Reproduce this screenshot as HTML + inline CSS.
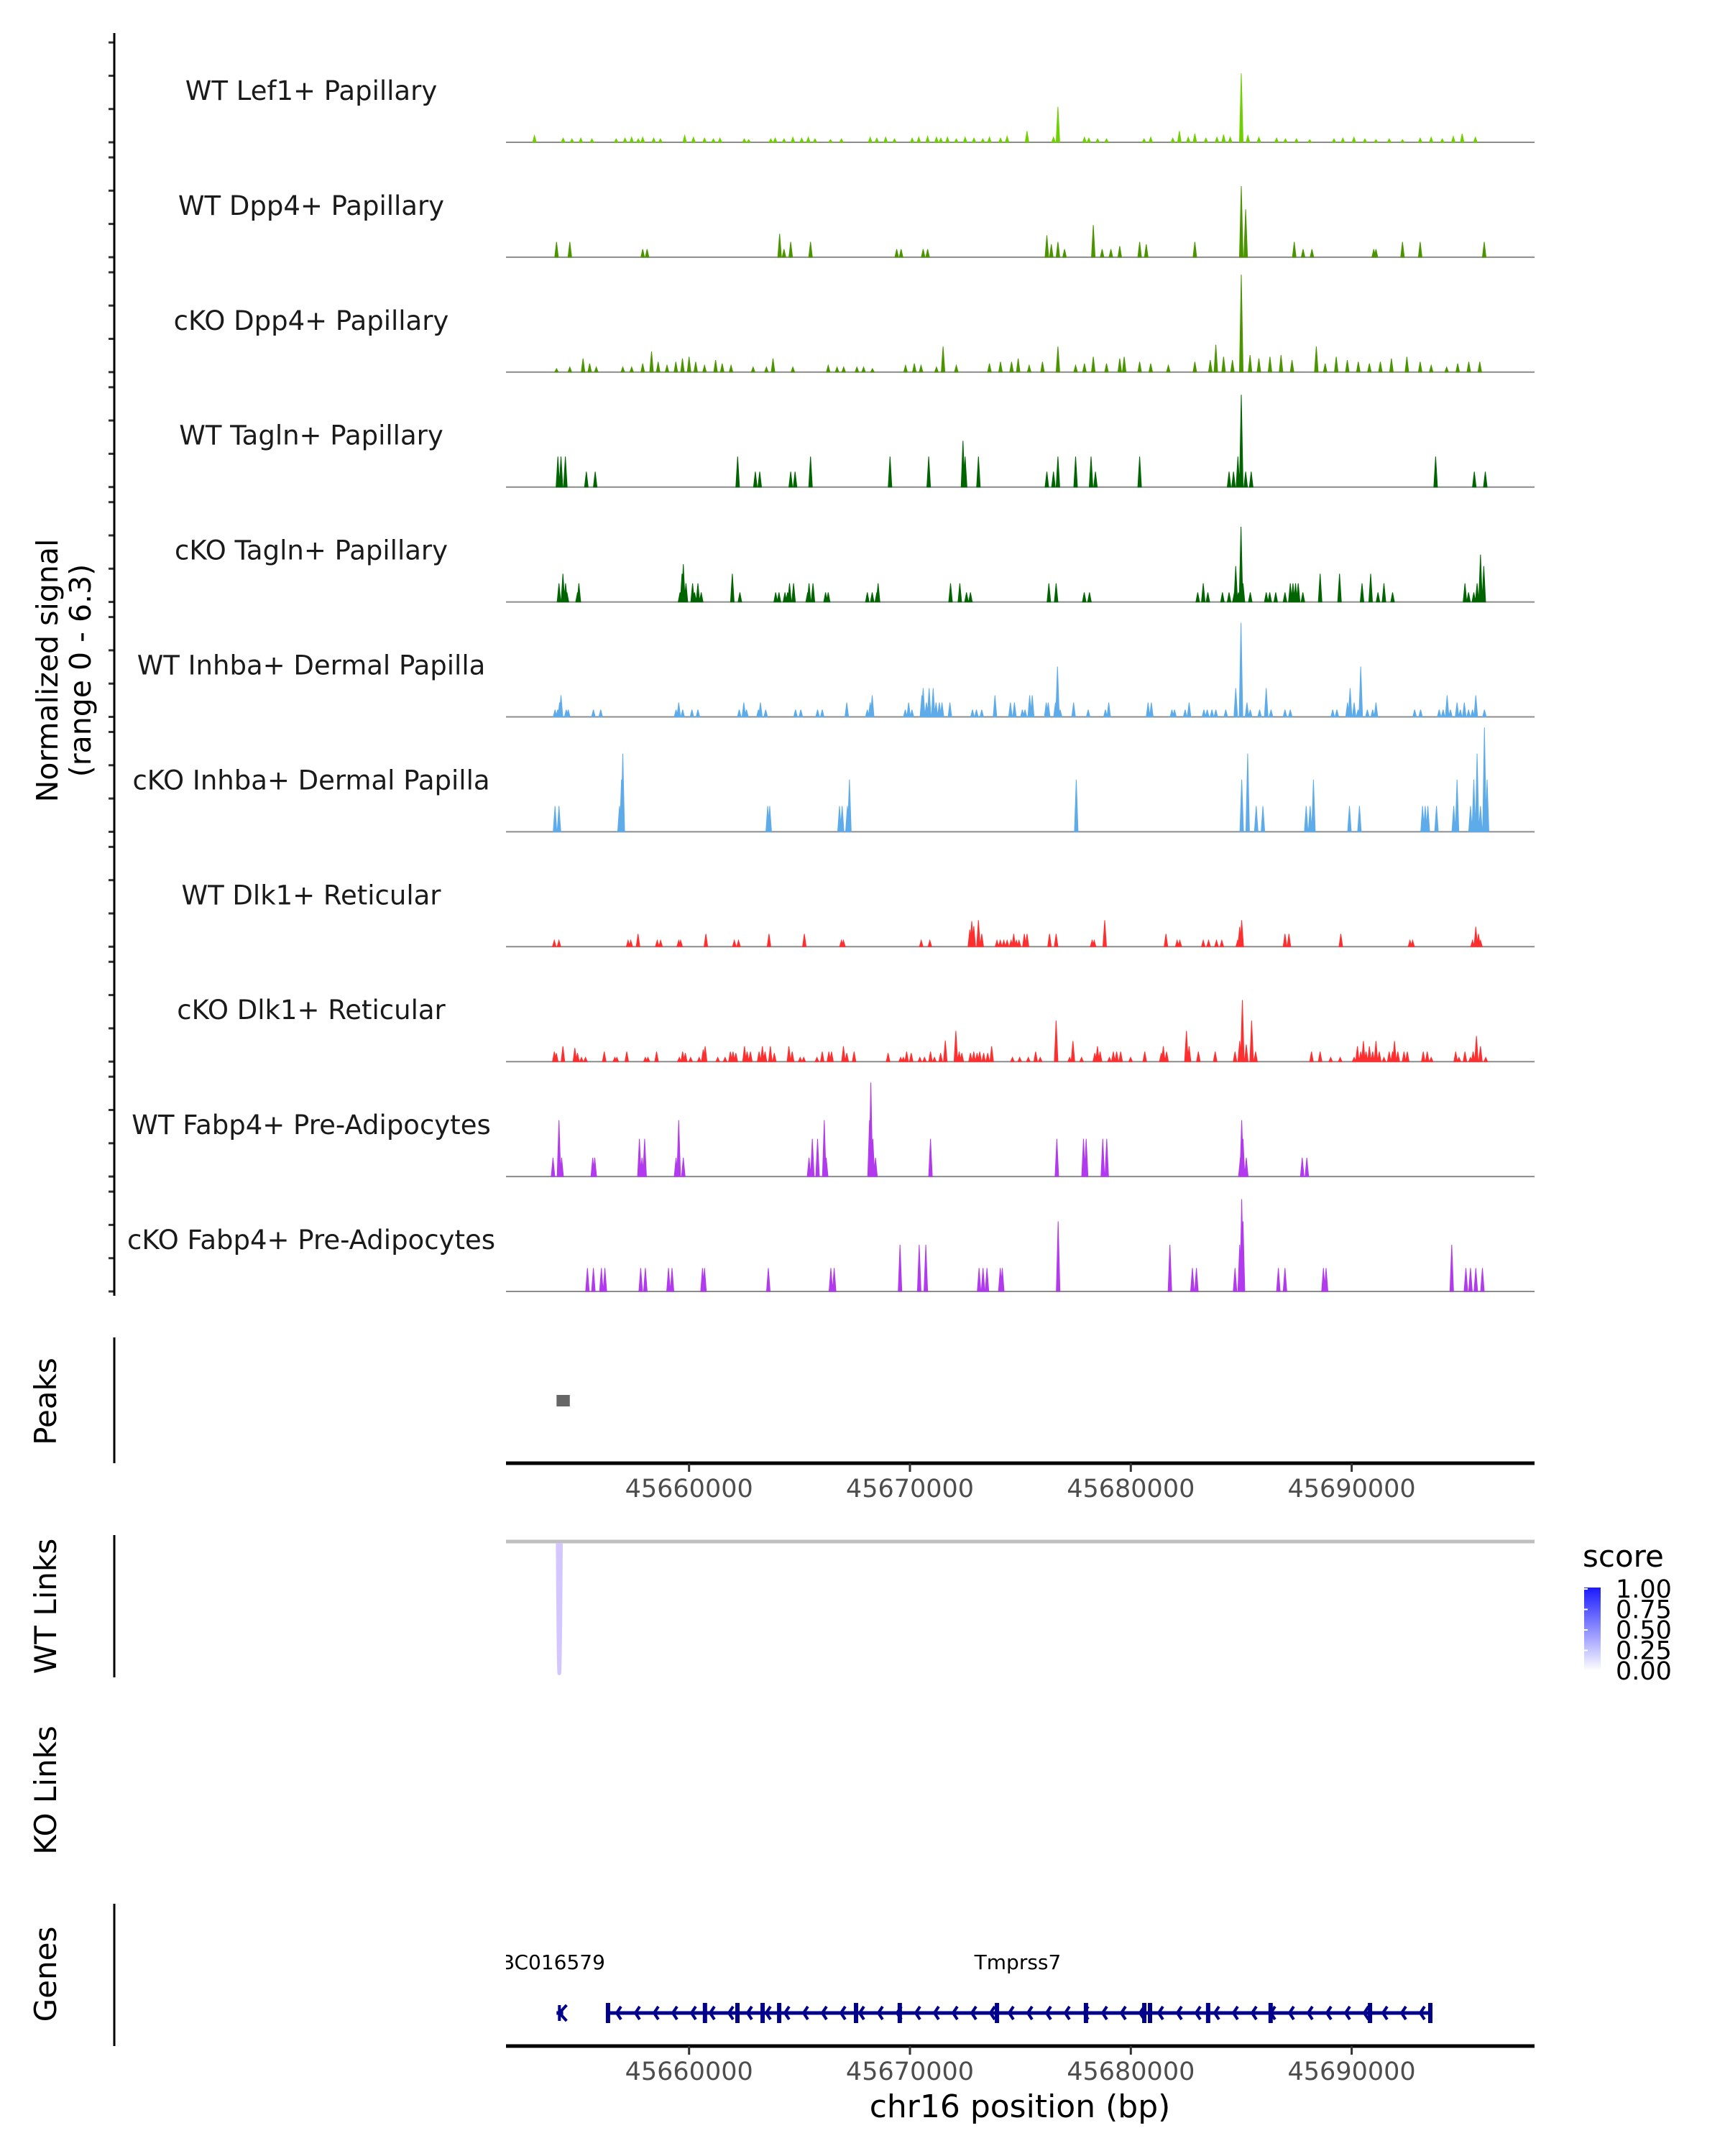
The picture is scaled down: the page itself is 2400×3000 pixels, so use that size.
<!DOCTYPE html>
<html><head><meta charset="utf-8"><style>
html,body{margin:0;padding:0;background:#fff}
svg{display:block}
text{font-family:"DejaVu Sans","Liberation Sans",sans-serif}
</style></head><body>
<svg id="fig" width="2400" height="3000" viewBox="0 0 2400 3000" xmlns="http://www.w3.org/2000/svg">
<defs>
<linearGradient id="scoreGrad" x1="0" y1="1" x2="0" y2="0"><stop offset="0" stop-color="#ffffff"/><stop offset="1" stop-color="#1a1aff"/></linearGradient>
<clipPath id="plotClip"><rect x="704" y="0" width="1431" height="3000"/></clipPath>
</defs>
<g id="tracks"></g>
<g id="axes"></g>
</svg>
<script>
// positions are kb on chr16 minus 45600 kb
const lef1Pos=[53.0,54.3,54.7,55.1,55.6,56.7,57.1,57.4,57.7,57.9,58.4,58.7,59.8,60.2,60.7,61.1,61.4,62.5,62.7,63.7,63.9,64.3,64.7,65.1,65.4,65.7,66.4,66.9,68.2,68.5,68.9,69.3,70.1,70.4,70.8,71.2,71.4,71.7,72.1,72.5,72.9,73.3,73.6,74.1,74.4,75.3,76.5,76.7,77.9,78.1,78.5,78.9,80.6,80.9,81.9,82.2,82.6,82.9,83.4,83.9,84.2,84.5,85.0,85.3,85.8,86.6,87.0,87.5,88.1,89.2,89.6,90.1,90.6,91.1,91.7,92.3,93.1,93.6,94.1,94.6,95.0,95.6];
const lef1Val=[0.4,0.25,0.2,0.25,0.2,0.2,0.25,0.3,0.2,0.3,0.25,0.2,0.4,0.3,0.25,0.2,0.25,0.2,0.15,0.2,0.25,0.2,0.3,0.25,0.3,0.2,0.15,0.2,0.3,0.25,0.3,0.2,0.25,0.3,0.35,0.3,0.25,0.3,0.2,0.3,0.25,0.2,0.3,0.25,0.35,0.66,0.3,2.08,0.3,0.25,0.2,0.2,0.2,0.3,0.25,0.66,0.3,0.5,0.25,0.3,0.45,0.3,4.03,0.4,0.3,0.25,0.2,0.2,0.15,0.2,0.25,0.3,0.2,0.15,0.2,0.15,0.25,0.3,0.2,0.35,0.5,0.3];
const dppWtPos=[54.0,54.6,57.9,58.1,64.1,64.3,64.6,65.5,69.4,69.6,70.6,70.8,76.2,76.4,76.7,77.0,78.3,78.7,79.1,79.5,80.4,80.7,82.9,85.0,85.2,87.4,87.8,88.2,91.0,91.1,92.3,93.1,96.0];
const dppWtVal=[0.9,0.9,0.47,0.47,1.37,0.47,0.9,0.9,0.47,0.47,0.47,0.47,1.28,0.75,0.9,0.47,1.88,0.47,0.47,0.65,0.9,0.75,0.9,4.16,2.8,0.9,0.47,0.47,0.47,0.47,0.9,0.9,0.9];
const dppKoPos=[54.0,54.6,55.2,55.5,55.8,57.0,57.4,57.9,58.3,58.6,59.0,59.4,59.7,60.0,60.3,60.7,61.2,61.5,61.9,62.9,63.5,63.8,64.7,66.3,66.7,67.0,67.6,67.9,68.3,69.8,70.2,70.5,71.2,71.5,72.1,73.6,74.1,74.6,74.9,75.4,76.0,76.7,77.5,77.9,78.3,78.9,79.5,79.7,80.4,80.9,81.7,82.9,83.6,83.85,84.2,84.6,85.0,85.4,85.8,86.3,86.8,87.3,88.4,88.8,89.3,89.8,90.3,90.8,91.3,91.8,92.5,93.1,93.6,94.3,94.8,95.3,95.8];
const dppKoVal=[0.2,0.3,0.8,0.5,0.3,0.3,0.3,0.5,1.2,0.6,0.4,0.6,0.8,0.9,0.6,0.4,0.7,0.5,0.4,0.3,0.3,0.8,0.3,0.4,0.3,0.3,0.3,0.3,0.2,0.4,0.5,0.4,0.3,1.5,0.4,0.5,0.6,0.6,0.8,0.4,0.6,1.5,0.4,0.5,0.9,0.5,0.8,0.9,0.6,0.5,0.4,0.6,0.7,1.6,0.9,0.7,5.7,1.0,0.8,0.9,1.0,0.7,1.5,0.5,0.9,0.7,0.6,0.5,0.6,0.8,0.9,0.6,0.4,0.3,0.5,0.6,0.6];
const tagWtPos=[54.06,54.2,54.4,55.35,55.75,62.2,63.0,63.2,64.6,64.8,65.5,69.1,70.85,72.4,72.5,73.1,76.2,76.5,76.7,77.5,78.2,78.4,80.4,84.45,84.65,84.85,85.0,85.2,85.45,93.8,95.55,96.05];
const tagWtVal=[1.78,1.78,1.78,0.9,0.9,1.78,0.9,0.9,0.9,0.9,1.78,1.78,1.78,2.7,1.78,1.78,0.9,0.9,1.78,1.78,1.78,0.9,1.78,0.9,0.9,1.78,5.4,0.9,0.9,1.78,0.9,0.9];
const tagKoPos=[54.11,54.29,54.41,54.47,54.95,55.01,59.59,59.68,59.74,59.86,60.16,60.25,60.4,60.55,61.96,62.3,63.92,64.07,64.34,64.46,64.55,64.73,65.37,65.43,65.61,66.18,66.3,68.07,68.29,68.5,68.56,71.84,72.26,72.56,72.74,76.29,76.62,77.89,78.13,83.03,83.28,83.49,84.15,84.45,84.69,84.75,84.87,84.99,85.08,85.41,86.13,86.29,86.56,86.98,87.22,87.34,87.46,87.58,87.79,88.57,89.45,90.47,90.86,91.19,91.46,91.85,95.13,95.29,95.53,95.68,95.83,95.98];
const tagKoVal=[1.09,1.65,1.09,0.56,0.56,1.09,0.56,1.65,2.2,1.09,1.09,0.56,1.09,0.56,1.65,0.56,0.56,0.56,0.56,0.56,1.09,1.09,0.56,1.09,1.09,0.56,0.56,0.56,0.56,0.56,1.09,1.09,1.09,0.56,0.56,1.09,1.09,0.56,0.56,0.56,1.09,0.56,0.56,0.56,0.56,2.1,0.56,4.4,1.09,0.56,0.56,0.56,0.56,0.56,1.09,1.09,1.09,1.09,0.56,1.65,1.65,1.09,1.65,0.56,1.09,0.56,1.09,0.56,0.56,1.09,2.77,2.1];
const inhWtPos=[53.93,54.05,54.14,54.2,54.44,54.53,55.67,56.0,59.41,59.53,59.71,60.13,60.4,62.27,62.48,62.6,63.14,63.23,63.47,64.82,65.06,65.82,66.03,67.14,68.07,68.2,68.29,69.79,69.94,70.09,70.54,70.6,70.75,70.87,71.05,71.18,71.33,71.45,71.81,72.83,73.01,73.25,73.85,74.55,74.73,75.09,75.21,75.42,75.54,76.17,76.26,76.59,76.68,76.8,77.41,78.07,78.85,79.0,80.78,80.93,81.86,81.98,82.46,82.64,83.31,83.46,83.67,83.85,84.3,84.75,84.99,85.26,85.41,85.83,86.13,86.35,86.98,87.22,89.14,89.33,89.81,89.93,90.11,90.29,90.41,90.71,90.95,91.1,92.85,93.12,93.96,94.14,94.32,94.47,94.77,94.92,95.1,95.29,95.47,95.62,96.01];
const inhWtVal=[0.42,0.42,0.84,1.26,0.42,0.42,0.42,0.42,0.42,0.84,0.42,0.42,0.42,0.42,0.84,0.42,0.42,0.84,0.42,0.42,0.42,0.42,0.42,0.84,0.42,0.84,1.26,0.42,0.84,0.42,1.26,1.68,0.84,1.68,1.68,0.84,0.84,0.84,0.84,0.42,0.42,0.42,1.26,0.84,0.84,0.42,0.42,1.26,1.26,0.84,0.84,0.84,2.94,0.42,0.84,0.42,0.42,0.84,0.84,0.84,0.42,0.42,0.42,0.84,0.42,0.42,0.42,0.42,0.42,1.68,5.5,0.84,0.42,0.42,1.68,0.42,0.42,0.42,0.42,0.42,0.84,1.68,0.84,0.42,2.94,0.42,0.42,0.84,0.42,0.42,0.42,0.42,1.26,0.42,0.84,0.42,0.84,0.42,0.42,1.26,0.42];
const inhKoPos=[53.93,54.11,56.85,56.94,57.0,63.56,63.65,66.81,66.93,67.17,67.26,77.53,85.02,85.29,85.68,85.98,87.94,88.12,88.27,89.9,90.35,93.21,93.33,93.45,93.84,94.62,94.77,95.38,95.53,95.68,95.83,96.01,96.13];
const inhKoVal=[1.51,1.51,1.51,3.05,4.57,1.51,1.51,1.51,1.51,1.51,3.05,3.05,3.05,4.57,1.51,1.51,1.51,1.51,3.05,1.51,1.51,1.51,1.51,1.51,1.51,1.51,3.05,1.51,3.05,4.57,1.51,6.1,3.05];
const dlkWtPos=[53.9,54.11,57.24,57.36,57.69,58.56,58.71,59.53,59.62,60.76,62.05,62.24,63.62,65.22,66.9,66.99,70.51,70.9,72.71,72.8,72.89,73.1,73.25,73.94,74.09,74.25,74.4,74.58,74.7,74.82,74.94,75.18,75.3,76.32,76.62,78.25,78.34,78.82,81.59,82.1,82.22,83.28,83.52,83.88,84.12,84.84,84.93,85.02,86.98,87.16,89.51,92.64,92.76,95.47,95.62,95.74,95.83];
const dlkWtVal=[0.37,0.37,0.37,0.37,0.75,0.37,0.37,0.37,0.37,0.75,0.37,0.37,0.75,0.75,0.37,0.37,0.37,0.37,1.0,1.5,1.2,1.55,0.75,0.37,0.37,0.37,0.37,0.37,0.75,0.37,0.37,0.75,0.75,0.75,0.75,0.37,0.37,1.55,0.75,0.37,0.37,0.37,0.37,0.37,0.37,0.37,1.17,1.55,0.75,0.75,0.75,0.37,0.37,0.37,1.17,0.75,0.37];
const dlkKoPos=[53.9,53.99,54.29,54.83,54.95,55.13,55.31,56.16,56.64,56.73,57.18,58.02,58.14,58.53,59.56,59.71,59.83,60.07,60.46,60.64,60.73,61.3,61.63,61.87,61.99,62.12,62.51,62.63,62.78,63.17,63.32,63.44,63.68,63.86,64.52,64.67,65.03,65.19,65.79,66.03,66.33,66.45,66.99,67.14,67.47,69.01,69.58,69.7,69.85,70.06,70.45,70.66,70.93,71.11,71.39,71.6,72.08,72.23,72.35,72.74,72.89,73.04,73.16,73.34,73.52,73.7,74.64,74.97,75.36,75.69,75.9,76.62,77.23,77.38,77.77,78.37,78.49,78.61,79.03,79.21,79.36,79.54,79.99,80.63,81.38,81.47,81.62,82.52,82.64,83.06,83.82,84.72,84.93,85.05,85.23,85.47,85.65,88.18,88.57,89.05,89.48,90.11,90.26,90.41,90.53,90.65,90.8,90.95,91.1,91.25,91.46,91.7,91.85,91.94,92.09,92.37,92.52,93.24,93.42,93.6,94.71,94.86,95.13,95.38,95.5,95.65,95.83,96.07];
const dlkKoVal=[0.58,0.5,0.9,0.8,0.5,0.25,0.25,0.58,0.25,0.25,0.58,0.25,0.25,0.58,0.25,0.58,0.5,0.25,0.25,0.7,0.9,0.25,0.25,0.58,0.58,0.5,0.9,0.58,0.58,0.58,0.9,0.58,0.9,0.5,0.9,0.58,0.25,0.25,0.25,0.58,0.58,0.58,0.9,0.5,0.58,0.5,0.25,0.25,0.58,0.5,0.25,0.25,0.58,0.25,0.5,1.23,1.8,0.58,0.5,0.5,0.58,0.5,0.58,0.5,0.5,0.9,0.25,0.25,0.25,0.58,0.25,2.4,0.25,1.2,0.25,0.5,0.9,0.58,0.25,0.58,0.58,0.58,0.25,0.58,0.5,0.9,0.58,1.8,0.9,0.58,0.58,0.58,1.2,3.6,1.0,2.4,0.58,0.58,0.58,0.25,0.25,0.25,0.9,0.58,1.2,0.58,0.9,0.58,1.2,0.58,0.25,0.58,0.58,1.2,0.58,0.58,0.58,0.58,0.58,0.25,0.58,0.25,0.58,0.25,0.58,1.5,0.9,0.25];
const fabWtPos=[53.84,54.11,54.23,55.64,55.73,57.75,57.87,57.99,59.41,59.53,59.74,65.43,65.58,65.82,66.12,66.21,68.17,68.23,68.32,68.44,70.93,76.65,77.86,77.98,78.73,78.91,84.96,85.02,85.08,85.23,87.76,87.97];
const fabWtVal=[1.1,3.3,1.1,1.1,1.1,2.2,1.1,2.2,1.1,3.3,1.1,1.1,2.2,2.2,3.3,1.1,3.3,5.5,2.2,1.1,2.2,2.2,2.2,2.2,2.2,2.2,1.1,3.3,2.2,1.1,1.1,1.1];
const fabKoPos=[55.4,55.67,56.03,56.19,57.81,58.02,59.07,59.23,60.61,60.7,63.59,66.42,66.57,69.55,70.42,70.72,73.13,73.31,73.49,74.09,74.18,76.71,81.77,82.79,82.97,84.72,84.93,85.02,85.08,86.68,86.98,88.72,88.84,94.53,95.17,95.38,95.62,95.92];
const fabKoVal=[1.37,1.37,1.37,1.37,1.37,1.37,1.37,1.37,1.37,1.37,1.37,1.37,1.37,2.73,2.73,2.73,1.37,1.37,1.37,1.37,1.37,4.1,2.73,1.37,1.37,1.37,2.73,5.4,4.1,1.37,1.37,1.37,1.37,2.73,1.37,1.37,1.37,1.37];
const trackNames=["WT Lef1+ Papillary","WT Dpp4+ Papillary","cKO Dpp4+ Papillary","WT Tagln+ Papillary","cKO Tagln+ Papillary","WT Inhba+ Dermal Papilla","cKO Inhba+ Dermal Papilla","WT Dlk1+ Reticular","cKO Dlk1+ Reticular","WT Fabp4+ Pre-Adipocytes","cKO Fabp4+ Pre-Adipocytes"];
const trackColors=["#6fd000","#4a9400","#4a9400","#006400","#006400","#5eabea","#5eabea","#ff2f2f","#ff2f2f","#b23aee","#b23aee"];
const trackPos=[lef1Pos,dppWtPos,dppKoPos,tagWtPos,tagKoPos,inhWtPos,inhKoPos,dlkWtPos,dlkKoPos,fabWtPos,fabKoPos];
const trackVal=[lef1Val,dppWtVal,dppKoVal,tagWtVal,tagKoVal,inhWtVal,inhKoVal,dlkWtVal,dlkKoVal,fabWtVal,fabKoVal];
const xTicks=[45660000,45670000,45680000,45690000];
const peakStart=[54.0];const peakEnd=[54.6];
const linkStart=[54.05];const linkEnd=[54.2];const linkScore=[0.22];
const exonPos=[56.33,60.72,62.19,63.33,64.08,67.56,69.54,73.94,77.97,80.61,80.87,83.5,86.33,90.83,93.56];
const geneStart=[54.0,56.33];const geneEnd=[54.3,93.56];const geneNames=["BC016579","Tmprss7"];
const legendTicks=["1.00","0.75","0.50","0.25","0.00"];

const NS="http://www.w3.org/2000/svg";
const svg=document.getElementById('fig');
const tracksG=document.getElementById('tracks');
const axesG=document.getElementById('axes');
function xs(kb){return 958.7+(kb-60)*30.73;}
function xbp(bp){return 958.7+(bp-45660000)/1000*30.73;}
function ys(v,base){return base-v*23.8;}
function mk(tag,attrs,parent){const e=document.createElementNS(NS,tag);for(const k in attrs)e.setAttribute(k,attrs[k]);(parent||svg).appendChild(e);return e;}
const BASE0=198,STEP=159.9,X0=704,X1=2135;

for(let i=0;i<trackNames.length;i++){
  const b=BASE0+i*STEP;
  const g=mk('g',{},tracksG);
  
  
  const lbl=mk('text',{x:433,y:b-59,'text-anchor':'middle','font-size':37,fill:'#1a1a1a'},g);
  lbl.textContent=trackNames[i];
  
  
  const bl=mk('line',{x1:X0,x2:X1,y1:b,y2:b,stroke:'#8c8c8c','stroke-width':2},g);
  
  
  let d='';
  const P=trackPos[i],V=trackVal[i];
  for(let j=0;j<P.length;j++){
    const x=xs(P[j]),y=ys(V[j],b);
    d+='M'+(x-2.5).toFixed(1)+' '+b+'L'+x.toFixed(1)+' '+y.toFixed(1)+'L'+(x+2.5).toFixed(1)+' '+b+'Z';
  }
  const p=mk('path',{d:d,fill:trackColors[i],stroke:trackColors[i],'stroke-width':1},g);
  
  
  for(let k=0;k<4;k++){const ty=b-k*46.3;const t=mk('line',{x1:151,x2:159,y1:ty,y2:ty,stroke:'#333','stroke-width':3},axesG);
    
    }
}
const ya=mk('line',{x1:159,x2:159,y1:46,y2:1803,stroke:'#000','stroke-width':3},axesG);


const yt=mk('text',{transform:'translate(80,933) rotate(-90)','text-anchor':'middle','font-size':41,fill:'#000'},axesG);


const ts1=mk('tspan',{x:0,dy:0},yt);ts1.textContent='Normalized signal';
const ts2=mk('tspan',{x:0,dy:46},yt);ts2.textContent='(range 0 - 6.3)';

function sideLabel(txt,cy,y1,y2,name){
  const t=mk('text',{transform:'translate(78,'+cy+') rotate(-90)','text-anchor':'middle','font-size':42,fill:'#000'},axesG);
  t.textContent=txt;
  
  
  if(y1!==null){const l=mk('line',{x1:159,x2:159,y1:y1,y2:y2,stroke:'#000','stroke-width':3},axesG);
    
    }
}
sideLabel('Peaks',1950,1861,2036,'peaks');
sideLabel('WT Links',2235,2136,2334,'wt-links');
sideLabel('KO Links',2491,null,null,'ko-links');
sideLabel('Genes',2747,2649,2847,'genes');

function xAxis(y,name){
  const a=mk('line',{x1:X0,x2:X1,y1:y,y2:y,stroke:'#000','stroke-width':5},axesG);
  
  
  for(const t of xTicks){const x=xbp(t);
    const tk=mk('line',{x1:x,x2:x,y1:y,y2:y+12,stroke:'#333','stroke-width':3},axesG);
    
    
    const tl=mk('text',{x:x,y:y+47,'text-anchor':'middle','font-size':35,fill:'#4d4d4d'},axesG);
    tl.textContent=String(t);
    
    }
}
for(let i=0;i<peakStart.length;i++){const r=mk('rect',{x:xs(peakStart[i]),y:1941,width:xs(peakEnd[i])-xs(peakStart[i]),height:16,fill:'#666'},axesG);
  
  }
xAxis(2036,'peaks-x-axis');
const lb=mk('line',{x1:X0,x2:X1,y1:2145,y2:2145,stroke:'#bfbfbf','stroke-width':5},axesG);


for(let i=0;i<linkStart.length;i++){const a=xs(linkStart[i]),c=xs(linkEnd[i]);
  const pth=mk('path',{d:'M'+a+' 2147 Q'+((a+c)/2)+' 2510 '+c+' 2147',fill:'none',stroke:'#d4c6ff','stroke-width':5},axesG);
  
  }
const lg=mk('g',{},axesG);


const lt=mk('text',{x:2202,y:2180,'font-size':42,fill:'#000'},lg);lt.textContent='score';


const cb=mk('rect',{x:2204,y:2209,width:23,height:116,fill:'url(#scoreGrad)'},lg);


for(let i=0;i<legendTicks.length;i++){const y=2211+i*28.5;
  const tl=mk('text',{x:2248,y:y+12,'font-size':35,fill:'#000'},lg);tl.textContent=legendTicks[i];
  
  
  const tk=mk('line',{x1:2204,x2:2209,y1:y,y2:y,stroke:'#fff','stroke-width':2},lg);
  
  }
const gg=mk('g',{'clip-path':'url(#plotClip)'},axesG);


const gy=2801;
for(let i=0;i<geneStart.length;i++){
  const a=xs(geneStart[i]),c=xs(geneEnd[i]);
  const gl=mk('line',{x1:a,x2:c,y1:gy,y2:gy,stroke:'#00008b','stroke-width':5},gg);
  
  
  let d='';
  for(let x=c-14;x>a+4;x-=26){d+='M'+(x+6)+' '+(gy-9)+'L'+x+' '+gy+'L'+(x+6)+' '+(gy+9);}
  if(i===0)d='M'+(a+14)+' '+(gy-11)+'L'+(a+4)+' '+gy+'L'+(a+14)+' '+(gy+11)+'M'+(a+4)+' '+(gy-11)+'L'+(a+4)+' '+(gy+11);
  const ch=mk('path',{d:d,fill:'none',stroke:'#00008b','stroke-width':4},gg);
  
  
  const nm=mk('text',{x:i===0?(xs(geneStart[i])-5):1416,y:2740,'text-anchor':'middle','font-size':28,fill:'#000'},gg);
  nm.textContent=geneNames[i];
  
  
}
for(const e of exonPos){const x=xs(e);
  const r=mk('rect',{x:x-3,y:gy-14,width:6,height:28,fill:'#00008b'},gg);
  
  }
xAxis(2847,'genes-x-axis');
const xt=mk('text',{x:1419,y:2946,'text-anchor':'middle','font-size':44,fill:'#000'},axesG);
xt.textContent='chr16 position (bp)';


</script>
</body></html>
